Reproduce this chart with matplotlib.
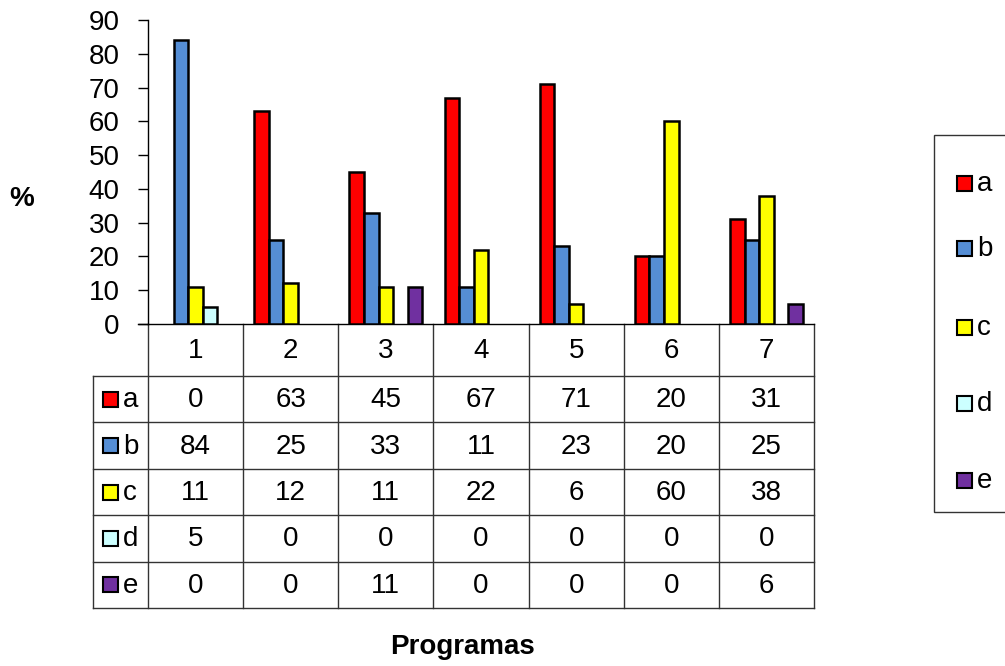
import matplotlib
matplotlib.use("Agg")
import matplotlib.pyplot as plt
from matplotlib.patches import Rectangle

categories = ["1", "2", "3", "4", "5", "6", "7"]
series_names = ["a", "b", "c", "d", "e"]
a_vals = [0, 63, 45, 67, 71, 20, 31]
b_vals = [84, 25, 33, 11, 23, 20, 25]
c_vals = [11, 12, 11, 22, 6, 60, 38]
d_vals = [5, 0, 0, 0, 0, 0, 0]
e_vals = [0, 0, 11, 0, 0, 0, 6]
series_vals = [a_vals, b_vals, c_vals, d_vals, e_vals]
colors = ["#FF0000", "#558ED5", "#FFFF00", "#CCFFFF", "#7030A0"]
y_ticks = [0, 10, 20, 30, 40, 50, 60, 70, 80, 90]

plt.rcParams['font.family'] = ['Liberation Sans', 'DejaVu Sans']

W, H = 1005, 666
fig = plt.figure(figsize=(W / 100, H / 100), dpi=100)

# layout in pixels
ax_l, ax_r, ax_top, ax_bot = 148, 814, 20, 324
ax = fig.add_axes([ax_l / W, 1 - ax_bot / H, (ax_r - ax_l) / W, (ax_bot - ax_top) / H])

n = len(categories)
bw = 0.153
for j, (vals, col) in enumerate(zip(series_vals, colors)):
    xs = [i + (j - 2) * bw for i in range(n) if vals[i] != 0]
    hs = [v for v in vals if v != 0]
    ax.bar(xs, hs, width=bw, color=col, edgecolor="black", linewidth=1.8, zorder=3)

ax.set_xlim(-0.5, n - 0.5)
ax.set_ylim(0, 90)
ax.set_yticks(y_ticks)
ax.set_xticks([])
for s in ["top", "right"]:
    ax.spines[s].set_visible(False)
ax.spines["left"].set_linewidth(1.0)
ax.spines["bottom"].set_linewidth(1.0)
ax.tick_params(axis="y", direction="out", length=7.5, width=1.0, labelsize=20, pad=13)
ax.patch.set_alpha(0)

# overlay for table, legend, labels
ov = fig.add_axes([0, 0, 1, 1], zorder=-1)
ov.set_xlim(0, W)
ov.set_ylim(H, 0)
ov.axis("off")

# extend x axis line to tick
ov.plot([138, ax_l], [ax_bot, ax_bot], color="black", lw=1.0)

colw = (ax_r - ax_l) / n
lab_l = 93
hdr_b = 376
rowh = (608 - hdr_b) / len(series_names)
tbl_b = hdr_b + rowh * len(series_names)
lc = "#333333"
# vertical lines
for i in range(n + 1):
    x = ax_l + i * colw
    ov.plot([x, x], [ax_bot, tbl_b], color=lc, lw=1.0)
ov.plot([lab_l, lab_l], [hdr_b, tbl_b], color=lc, lw=1.0)
# horizontal lines
ov.plot([lab_l, ax_r], [hdr_b, hdr_b], color=lc, lw=1.0)
for r in range(1, len(series_names) + 1):
    y = hdr_b + r * rowh
    ov.plot([lab_l, ax_r], [y, y], color=lc, lw=1.0)

fs = 20
for i, c in enumerate(categories):
    ov.text(ax_l + (i + 0.5) * colw, (ax_bot + hdr_b) / 2 + 1, c, ha="center", va="center", fontsize=fs)
for r, (name, vals, col) in enumerate(zip(series_names, series_vals, colors)):
    yc = hdr_b + (r + 0.5) * rowh
    ov.add_patch(Rectangle((103, yc - 7.5), 15, 15, facecolor=col, edgecolor="black", lw=1.5))
    ov.text(123, yc + 1, name, ha="left", va="center", fontsize=fs)
    for i, v in enumerate(vals):
        ov.text(ax_l + (i + 0.5) * colw, yc + 1, str(v), ha="center", va="center", fontsize=fs)

# legend
ov.add_patch(Rectangle((934, 135), 100, 377, facecolor="white", edgecolor="#333333", lw=1.0))
leg_y = [183, 248, 327, 403, 480]
for name, col, y in zip(series_names, colors, leg_y):
    ov.add_patch(Rectangle((957, y - 7.5), 15, 15, facecolor=col, edgecolor="black", lw=1.5))
    ov.text(977, y + 1, name, ha="left", va="center", fontsize=fs)

fig.text(22 / W, 1 - 199 / H, "%", ha="center", va="center", fontsize=20, fontweight="bold")
fig.text(462 / W, 1 - 647 / H, "Programas", ha="center", va="center", fontsize=20, fontweight="bold")

fig.savefig("out.png", dpi=100, facecolor="white")
